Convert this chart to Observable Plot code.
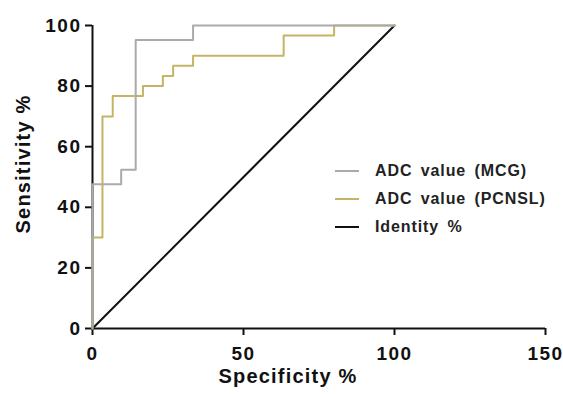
<!DOCTYPE html>
<html>
<head>
<meta charset="utf-8">
<script src="https://cdn.jsdelivr.net/npm/d3@7"></script>
<script src="https://cdn.jsdelivr.net/npm/@observablehq/plot@0.6"></script>
<style>
  html, body { margin: 0; padding: 0; background: #fff; }
  #wrap { position: relative; width: 563px; height: 395px; font-family: "Liberation Sans", Arial, sans-serif; }
  #wrap svg text { font-weight: bold; }
  #wrap svg g[aria-label="y-axis tick label"] text,
  #wrap svg g[aria-label="x-axis tick label"] text { letter-spacing: 1.5px; }
  #wrap svg g.title text { letter-spacing: 1.2px; }
  .legend { position: absolute; left: 335px; top: 157px; font-weight: bold; font-size: 16px; color: #222; letter-spacing: 0.9px; }
  .legend .row { display: flex; align-items: center; height: 28px; }
  .legend .sw { width: 24px; height: 0; border-top: 2px solid; margin-right: 16px; }
</style>
</head>
<body>
<div id="wrap"></div>
<script>
// ROC step vertices (step-before): specificity (x) and sensitivity (y), in %
const mcgSpec = [0, 9.5, 14.3, 33.3, 100];
const mcgSens = [0, 47.6, 52.4, 95.2, 100];
const pcnslSpec = [0, 3.3, 6.7, 16.7, 23.3, 26.7, 33.3, 63.3, 80, 100];
const pcnslSens = [0, 30, 70, 76.7, 80, 83.3, 86.7, 90, 96.7, 100];
const identitySpec = [0, 100];
const identitySens = [0, 100];
const xTicks = [0, 50, 100, 150];
const yTicks = [0, 20, 40, 60, 80, 100];
const seriesNames = ["ADC value (MCG)", "ADC value (PCNSL)", "Identity %"];
const seriesColors = ["#aaaaaa", "#c4b464", "#111111"];

const toRows = (xs, ys) => xs.map((x, i) => ({x, y: ys[i]}));
const mcg = toRows(mcgSpec, mcgSens);
const pcnsl = toRows(pcnslSpec, pcnslSens);
const identity = toRows(identitySpec, identitySens);

const plot = Plot.plot({
  width: 563,
  height: 395,
  marginLeft: 92,
  marginRight: 18,
  marginTop: 25,
  marginBottom: 67,
  style: {fontFamily: "'Liberation Sans', Arial, sans-serif", color: "#111", background: "#fff"},
  x: {domain: [0, 150]},
  y: {domain: [0, 100]},
  marks: [
    Plot.axisX({ticks: xTicks, tickSize: 7, tickPadding: 11, fontSize: 19, strokeWidth: 2, label: null, stroke: "#111"}),
    Plot.axisY({ticks: yTicks, tickSize: 7, tickPadding: 4, fontSize: 19, strokeWidth: 2, label: null, stroke: "#111"}),
    Plot.ruleY([0], {x1: 0, x2: 150, stroke: "#111", strokeWidth: 2}),
    Plot.ruleX([0], {y1: 0, y2: 100, stroke: "#111", strokeWidth: 2}),
    Plot.line(identity, {x: "x", y: "y", stroke: seriesColors[2], strokeWidth: 2}),
    Plot.line(pcnsl, {x: "x", y: "y", curve: "step-before", stroke: seriesColors[1], strokeWidth: 2}),
    Plot.line(mcg, {x: "x", y: "y", curve: "step-before", stroke: seriesColors[0], strokeWidth: 2}),
    Plot.text(["Specificity %"], {className: "title", frameAnchor: "bottom", dx: -31, dy: 54, fontSize: 20, fontWeight: "bold", fill: "#111"}),
    Plot.text(["Sensitivity %"], {className: "title", frameAnchor: "left", textAnchor: "middle", dx: -69, dy: -13, rotate: -90, fontSize: 20, fontWeight: "bold", fill: "#111"})
  ]
});
const wrap = document.getElementById("wrap");
wrap.appendChild(plot);

const legend = document.createElement("div");
legend.className = "legend";
seriesNames.forEach((name, i) => {
  const row = document.createElement("div");
  row.className = "row";
  const sw = document.createElement("span");
  sw.className = "sw";
  sw.style.borderColor = seriesColors[i];
  const t = document.createElement("span");
  t.textContent = name;
  t.style.wordSpacing = "3px";
  row.appendChild(sw);
  row.appendChild(t);
  legend.appendChild(row);
});
wrap.appendChild(legend);
</script>
</body>
</html>
